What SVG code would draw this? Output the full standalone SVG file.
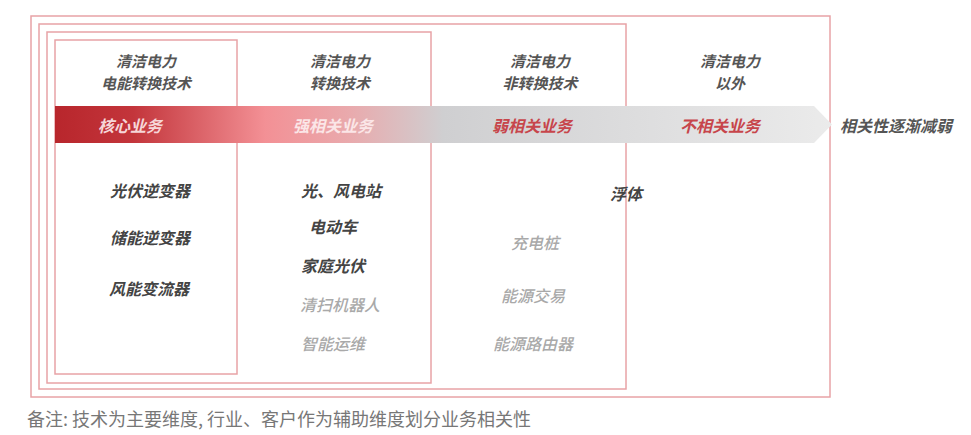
<svg xmlns="http://www.w3.org/2000/svg" width="971" height="435" viewBox="0 0 971 435">
<defs>
<linearGradient id="band" x1="55" y1="0" x2="832" y2="0" gradientUnits="userSpaceOnUse">
<stop offset="0" stop-color="#b8262c"/>
<stop offset="0.1" stop-color="#c3353b"/>
<stop offset="0.27" stop-color="#f39095"/>
<stop offset="0.38" stop-color="#e9aaad"/>
<stop offset="0.5" stop-color="#cfcfd1"/>
<stop offset="1" stop-color="#ebebeb"/>
</linearGradient>
<style>
.frame{fill:none;stroke:#e8a3a6;stroke-width:1.5}
.t{font-family:"Noto Sans CJK SC","Liberation Sans",sans-serif;font-size:16px;font-style:italic;text-anchor:middle;dominant-baseline:central}
.hd{fill:#555;font-weight:700;font-size:15px}
.dk{fill:#444;font-weight:700}
.lt{fill:#a9a9a9;font-weight:500}
.rd{fill:#c7454b;font-weight:700}
.st{text-anchor:start}
.note{font-family:"Noto Sans CJK SC","Liberation Sans",sans-serif;font-size:18px;fill:#777}
</style>
</defs>
<g id="frames">
<rect id="frame-outer" class="frame" x="31" y="16" width="799" height="381"/>
<rect id="frame-2" class="frame" x="39" y="24" width="587" height="365"/>
<rect id="frame-3" class="frame" x="47" y="32" width="384" height="351"/>
<rect id="frame-inner" class="frame" x="55" y="40" width="182" height="334"/>
</g>
<g id="connectors">
<polygon id="relevance-arrow" points="55,106 814,106 832,124.5 814,143 55,143" fill="url(#band)"/>
</g>
<g id="headers">
<g id="h1"><text class="t hd"><tspan x="146" y="60">清洁电力</tspan><tspan x="146" y="82">电能转换技术</tspan></text></g>
<g id="h2"><text class="t hd"><tspan x="340" y="60">清洁电力</tspan><tspan x="340" y="82">转换技术</tspan></text></g>
<g id="h3"><text class="t hd"><tspan x="540" y="60">清洁电力</tspan><tspan x="540" y="82">非转换技术</tspan></text></g>
<g id="h4"><text class="t hd"><tspan x="730" y="60">清洁电力</tspan><tspan x="730" y="82">以外</tspan></text></g>
</g>
<g id="band-labels">
<text class="t" x="130" y="125" fill="#f6d6d8" font-weight="700">核心业务</text>
<text class="t" x="333" y="125" fill="#fbe6e7" font-weight="700">强相关业务</text>
<text class="t rd" x="532" y="125">弱相关业务</text>
<text class="t rd" x="720" y="125">不相关业务</text>
<text class="t st" x="840" y="125" fill="#555" font-weight="700">相关性逐渐减弱</text>
</g>
<g id="col1-items">
<text class="t dk" x="150" y="190">光伏逆变器</text>
<text class="t dk" x="150" y="237">储能逆变器</text>
<text class="t dk" x="149" y="288">风能变流器</text>
</g>
<g id="col2-items">
<text class="t dk" x="341" y="190">光、风电站</text>
<text class="t dk" x="333" y="226">电动车</text>
<text class="t dk" x="333" y="265">家庭光伏</text>
<text class="t lt" x="340" y="304">清扫机器人</text>
<text class="t lt" x="333" y="343">智能运维</text>
</g>
<g id="col3-items">
<text class="t dk" x="626" y="193">浮体</text>
<text class="t lt" x="535" y="242">充电桩</text>
<text class="t lt" x="533" y="295">能源交易</text>
<text class="t lt" x="533" y="343">能源路由器</text>
</g>
<text class="note" x="27" y="426">备注: 技术为主要维度, 行业、客户作为辅助维度划分业务相关性</text>
</svg>
